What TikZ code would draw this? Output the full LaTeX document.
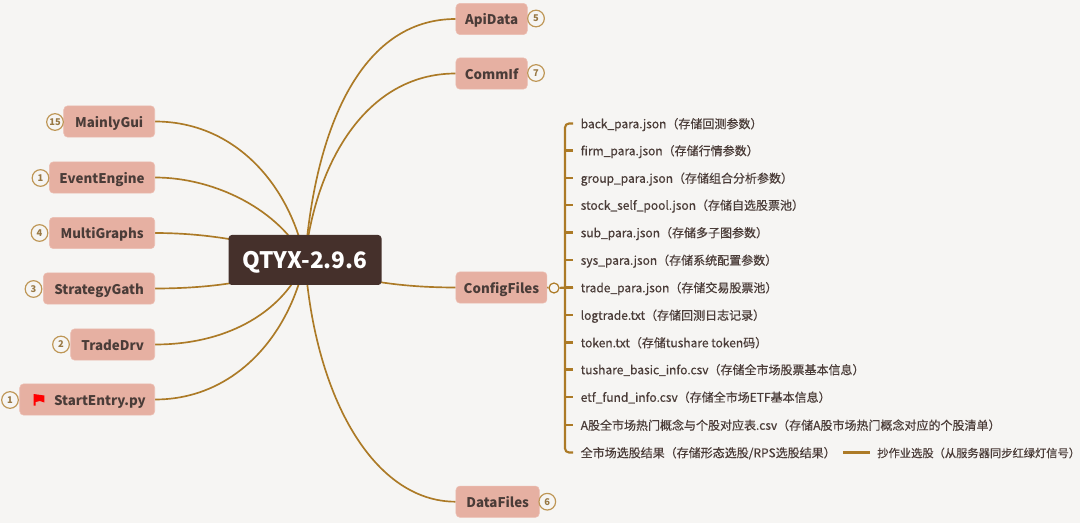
\documentclass[tikz,border=0pt]{standalone}
\usepackage{fontspec}
\setmainfont{Noto Sans CJK SC}
\newfontfamily\leaffont[FakeBold=0.5]{Noto Sans CJK SC}
\usepackage{tikz}
\usetikzlibrary{backgrounds}
\definecolor{PaperGrey}{RGB}{246,245,243}
\definecolor{RootBrown}{RGB}{69,48,43}
\definecolor{TopicPink}{RGB}{230,176,162}
\definecolor{TopicEdge}{RGB}{236,190,178}
\definecolor{InkBrown}{RGB}{74,60,56}
\definecolor{BranchGold}{RGB}{172,122,38}
\definecolor{BadgeGold}{RGB}{190,150,85}
\tikzset{
  rootbox/.style={fill=RootBrown,text=white,rounded corners=2.5pt,font=\bfseries\fontsize{17}{20}\selectfont,minimum width=114.75pt,minimum height=37.5pt,inner sep=0pt,text height=14pt,text depth=1.6pt},
  topicbox/.style={fill=TopicPink,draw=TopicEdge,line width=0.4pt,rounded corners=3pt,text=InkBrown,font=\bfseries\fontsize{10}{12}\selectfont,minimum height=23.5pt,inner sep=0pt,text height=10.5pt,text depth=1.5pt},
  badge/.style={circle,draw=BadgeGold,line width=0.9pt,fill=PaperGrey,text=BadgeGold!80!black,font=\bfseries\fontsize{7}{8}\selectfont,minimum size=12.5pt,inner sep=0pt},
  leaf/.style={anchor=west,text=InkBrown,font=\leaffont\fontsize{9}{11}\selectfont,inner ysep=0pt,inner xsep=5.6pt,text height=9pt,text depth=1.8pt},
  branch/.style={draw=BranchGold,line width=1.25pt},
  trunk/.style={draw=BranchGold,line width=1.6pt},
  fold/.style={circle,draw=BranchGold,fill=PaperGrey,line width=0.9pt,minimum size=7.5pt,inner sep=0pt}
}
\begin{document}
\begin{tikzpicture}[x=0.75pt,y=-0.75pt]
  \clip (0,0) rectangle (1080,523);
  \node[rootbox] (root) at (305,260) {QTYX-2.9.6};

  \node[topicbox,minimum width=68.25pt,anchor=east] (mainlygui) at (155,121.5) {MainlyGui};
  \node[topicbox,minimum width=79pt,anchor=east] (eventengine) at (155,177.5) {EventEngine};
  \node[topicbox,minimum width=79pt,anchor=east] (multigraphs) at (155,233) {MultiGraphs};
  \node[topicbox,minimum width=83.5pt,anchor=east] (strategygath) at (155,288.5) {StrategyGath};
  \node[topicbox,minimum width=63pt,anchor=east] (tradedrv) at (155,344.5) {TradeDrv};
  \node[topicbox,minimum width=101.25pt,anchor=east] (startentry) at (155,399.5) {\hspace*{19pt}StartEntry.py};
  \node[topicbox,minimum width=53.5pt,anchor=west] (apidata) at (455.7,19) {ApiData};
  \node[topicbox,minimum width=53.5pt,anchor=west] (commif) at (455.7,73.5) {CommIf};
  \node[topicbox,minimum width=68.25pt,anchor=west] (configfiles) at (455.7,287.5) {ConfigFiles};
  \node[topicbox,minimum width=62.5pt,anchor=west] (datafiles) at (455.7,501.7) {DataFiles};

  \node[badge] (n15) at (55,122) {15};
  \node[badge] (n1a) at (40.5,178) {1};
  \node[badge] (n4) at (39.5,233) {4};
  \node[badge] (n3) at (33.5,289) {3};
  \node[badge] (n2) at (61,344.5) {2};
  \node[badge] (n1b) at (10,400) {1};
  \node[badge] (n5) at (536,18.5) {5};
  \node[badge] (n7) at (536,73) {7};
  \node[badge] (n6) at (547.3,501.7) {6};

  \fill[red] (33.5,394) -- (44.3,395.5) -- (44.3,402.5) -- (40,401) -- (35.5,402) -- (35.5,405.5) -- (33.5,405.5) -- cycle;

  \node[fold] (fold) at (554,288) {};
  \coordinate (spine) at (565,288);

  \node[leaf] (f1) at (573,123.5) {back\_para.json（存储回测参数）};
  \node[leaf] (f2) at (573,150.5) {firm\_para.json（存储行情参数）};
  \node[leaf] (f3) at (573,178) {group\_para.json（存储组合分析参数）};
  \node[leaf] (f4) at (573,205) {stock\_self\_pool.json（存储自选股票池）};
  \node[leaf] (f5) at (573,232.5) {sub\_para.json（存储多子图参数）};
  \node[leaf] (f6) at (573,260) {sys\_para.json（存储系统配置参数）};
  \node[leaf] (f7) at (573,287.5) {trade\_para.json（存储交易股票池）};
  \node[leaf] (f8) at (573,315) {logtrade.txt（存储回测日志记录）};
  \node[leaf] (f9) at (573,342.5) {token.txt（存储tushare token码）};
  \node[leaf] (f10) at (573,369.5) {tushare\_basic\_info.csv（存储全市场股票基本信息）};
  \node[leaf] (f11) at (573,397) {etf\_fund\_info.csv（存储全市场ETF基本信息）};
  \node[leaf] (f12) at (573,425) {A股全市场热门概念与个股对应表.csv（存储A股市场热门概念对应的个股清单）};
  \node[leaf] (f13) at (573,452.5) {全市场选股结果（存储形态选股/RPS选股结果）};
  \node[leaf,font=\leaffont\fontsize{8.45}{11}\selectfont,inner xsep=0pt] (f14) at (877,452.5) {抄作业选股（从服务器同步红绿灯信号）};

  \begin{scope}[on background layer]
    \fill[PaperGrey] (0,0) rectangle (1080,523);
    \draw[branch] (root.center) .. controls (290,185) and (235,121.5) .. (mainlygui.east);
    \draw[branch] (root.center) .. controls (280,210) and (215,177.5) .. (eventengine.east);
    \draw[branch] (root.center) .. controls (270,245) and (215,233) .. (multigraphs.east);
    \draw[branch] (root.center) .. controls (270,280) and (215,288.5) .. (strategygath.east);
    \draw[branch] (root.center) .. controls (285,310) and (230,344.5) .. (tradedrv.east);
    \draw[branch] (root.center) .. controls (290,335) and (235,399.5) .. (startentry.east);
    \draw[branch] (root.center) .. controls (315,130) and (360,19) .. (apidata.west);
    \draw[branch] (root.center) .. controls (315,165) and (365,73.5) .. (commif.west);
    \draw[branch] (root.center) .. controls (345,280) and (400,287.5) .. (configfiles.west);
    \draw[branch] (root.center) .. controls (315,400) and (375,501.7) .. (datafiles.west);
  \end{scope}

  \draw[branch] (configfiles.east) -- (fold);
  \draw[trunk] (fold) -- (f7.west);
  \draw[trunk,rounded corners=3pt] (f1.west) -| (spine) |- (f13.west);
  \foreach \i in {2,...,12}
    \draw[trunk] (f\i.west -| spine) -- (f\i.west);
  \draw[trunk,shorten >=5.25pt] (f13.east) -- (f14.west);
\end{tikzpicture}
\end{document}
